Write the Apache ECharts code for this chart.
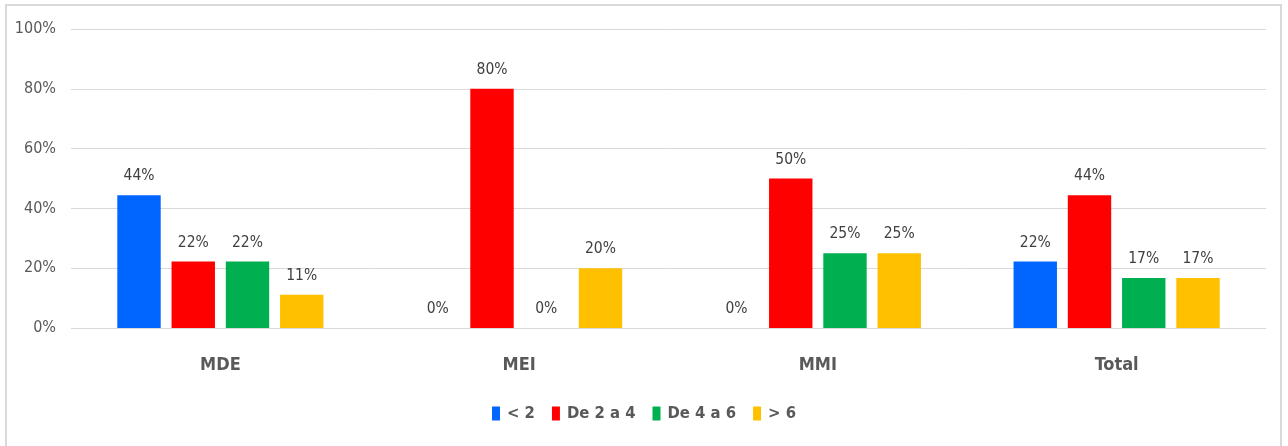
<!DOCTYPE html>
<html><head><meta charset="utf-8">
<script src="https://cdn.jsdelivr.net/npm/echarts@6/dist/echarts.min.js"></script>
<style>html,body{margin:0;padding:0;background:#fff}#c{width:1288px;height:446px}</style>
</head><body><div id="c"></div>
<script>
const categories = ['MDE', 'MEI', 'MMI', 'Total'];
const seriesNames = ['< 2', 'De 2 a 4', 'De 4 a 6', '> 6'];
const lt2 = [44.4, 0, 0, 22.2];
const de2a4 = [22.2, 80, 50, 44.4];
const de4a6 = [22.2, 0, 25, 16.7];
const gt6 = [11.1, 20, 25, 16.7];
const yTicks = [0, 20, 40, 60, 80, 100];
const colors = ['#0066FF', '#FF0000', '#00B050', '#FFC000'];
const FONT = '"DejaVu Sans Condensed", "Liberation Sans Narrow", "Open Sans", sans-serif';

const chart = echarts.init(document.getElementById('c'), null, {renderer: 'canvas'});
const dataSets = [lt2, de2a4, de4a6, gt6];
chart.setOption({
  animation: false,
  color: colors,
  graphic: [{type: 'rect', shape: {x: 6, y: 5, width: 1275, height: 460}, style: {fill: 'none', stroke: '#d9d9d9', lineWidth: 2}, silent: true}],
  grid: {left: 71, right: 22, top: 29, bottom: 118, containLabel: false},
  legend: {
    bottom: 19, left: 'center', itemWidth: 8, itemHeight: 14, itemGap: 17,
    icon: 'rect',
    textStyle: {fontFamily: FONT, fontSize: 16.5, fontWeight: 'bold', color: '#595959', padding: [0, 0, 0, 2]},
    data: seriesNames
  },
  xAxis: {
    type: 'category', data: categories,
    axisLine: {show: false}, axisTick: {show: false},
    axisLabel: {fontFamily: FONT, fontSize: 18, fontWeight: 'bold', color: '#595959', margin: 28}
  },
  yAxis: {
    type: 'value', min: 0, max: 100, interval: 20,
    axisLabel: {fontFamily: FONT, fontSize: 16, color: '#595959', margin: 15,
      formatter: v => yTicks.includes(v) ? v + '%' : ''},
    axisLine: {show: false}, axisTick: {show: false},
    splitLine: {lineStyle: {color: '#d9d9d9', width: 1}}
  },
  series: seriesNames.map((n, i) => ({
    name: n, type: 'bar', data: dataSets[i],
    barGap: '25%', barCategoryGap: '31%',
    itemStyle: {color: colors[i]},
    label: {show: true, position: 'top', distance: 11, fontFamily: FONT, fontSize: 15.5, color: '#404040',
      formatter: p => Math.round(p.value) + '%'}
  }))
});
</script></body></html>
